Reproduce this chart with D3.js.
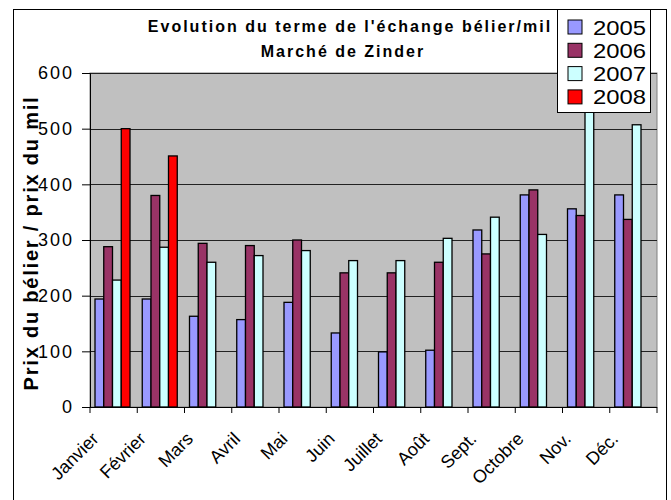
<!DOCTYPE html>
<html>
<head>
<meta charset="utf-8">
<script src="https://cdn.jsdelivr.net/npm/d3@7"></script>
<style>
  body { margin: 0; background: #fff; }
  svg { display: block; font-family: "Liberation Sans", Arial, sans-serif; }
</style>
</head>
<body>
<div id="chart"></div>
<script>
// donnees
var months = ["Janvier", "Février", "Mars", "Avril", "Mai", "Juin", "Juillet", "Août", "Sept.", "Octobre", "Nov.", "Déc."];
var years = ["2005", "2006", "2007", "2008"];
var v2005 = [194, 194, 163, 157, 188, 133, 99, 102, 318, 381, 356, 381];
var v2006 = [288, 380, 294, 290, 300, 241, 241, 260, 275, 390, 344, 337];
var v2007 = [228, 287, 260, 272, 281, 263, 263, 303, 341, 310, 560, 507];
var v2008 = [500, 451, null, null, null, null, null, null, null, null, null, null];
var yTicks = [0, 100, 200, 300, 400, 500, 600];
var colors = ["#9999ff", "#993366", "#ccffff", "#ff0000"];

var series = [v2005, v2006, v2007, v2008];

var W = 671, H = 500;
var plot = {left: 90, right: 657, top: 73, bottom: 407};

var svg = d3.select("#chart").append("svg")
  .attr("width", W).attr("height", H);

// cadre exterieur
svg.append("rect")
  .attr("x", 13.5).attr("y", 9.5)
  .attr("width", 653).attr("height", 520)
  .attr("fill", "#fff").attr("stroke", "#000");

var x0 = d3.scaleBand().domain(months).range([plot.left, plot.right]);
var x1 = d3.scaleBand().domain(years).range([5, 40]);
var y = d3.scaleLinear().domain([0, 600]).range([plot.bottom, plot.top]);

// fond de la zone de tracé
svg.append("rect")
  .attr("x", plot.left).attr("y", plot.top)
  .attr("width", plot.right - plot.left).attr("height", plot.bottom - plot.top)
  .attr("fill", "#c0c0c0").attr("stroke", "#808080");

// quadrillage
svg.append("g").selectAll("line").data(yTicks.slice(1)).enter().append("line")
  .attr("x1", plot.left).attr("x2", plot.right)
  .attr("y1", function(d){ return Math.round(y(d)) + 0.5; })
  .attr("y2", function(d){ return Math.round(y(d)) + 0.5; })
  .attr("stroke", "#222").attr("stroke-width", 1);

// barres
var flat = [];
series.forEach(function(s, i){
  s.forEach(function(v, j){
    if (v != null) flat.push({year: years[i], month: months[j], value: v, color: colors[i]});
  });
});
svg.append("g").selectAll("rect").data(flat).enter().append("rect")
  .attr("x", function(d){ return x0(d.month) + x1(d.year); })
  .attr("width", x1.bandwidth())
  .attr("y", function(d){ return y(d.value); })
  .attr("height", function(d){ return y(0) - y(d.value); })
  .attr("fill", function(d){ return d.color; })
  .attr("stroke", "#000").attr("stroke-width", 1.3);

// axe Y
var yAxis = svg.append("g")
  .attr("transform", "translate(" + plot.left + ",0)")
  .call(d3.axisLeft(y).tickValues(yTicks).tickSize(8).tickPadding(8));
yAxis.selectAll("text").attr("font-size", 18).attr("fill", "#000")
  .attr("letter-spacing", 2)
  .attr("font-family", "Liberation Sans, Arial, sans-serif");
yAxis.selectAll("line, path").attr("stroke", "#000");

// axe X (graduations entre les categories)
var xb = months.map(function(m){ return x0(m); }).concat([plot.right]);
svg.append("line")
  .attr("x1", plot.left).attr("x2", plot.right)
  .attr("y1", plot.bottom + 0.5).attr("y2", plot.bottom + 0.5)
  .attr("stroke", "#000");
svg.append("g").selectAll("line").data(xb).enter().append("line")
  .attr("x1", function(d){ return d; }).attr("x2", function(d){ return d; })
  .attr("y1", plot.bottom).attr("y2", plot.bottom + 6)
  .attr("stroke", "#000");

svg.append("g").selectAll("text").data(months).enter().append("text")
  .attr("transform", function(d){
    var cx = x0(d) + x0.bandwidth() / 2;
    return "translate(" + (cx - 14) + "," + 440 + ") rotate(-45)";
  })
  .attr("text-anchor", "end")
  .attr("font-size", 18)
  .text(function(d){ return d; });

// titre
var title = svg.append("text")
  .attr("text-anchor", "middle")
  .attr("font-size", 16).attr("font-weight", "bold")
  .attr("letter-spacing", 2);
title.append("tspan").attr("x", 350).attr("y", 32).text("Evolution du terme de l'échange bélier/mil");
title.append("tspan").attr("x", 343).attr("y", 57).text("Marché de Zinder");

// titre axe Y
svg.append("text")
  .attr("transform", "translate(38,243) rotate(-90)")
  .attr("text-anchor", "middle")
  .attr("font-size", 20).attr("font-weight", "bold")
  .attr("letter-spacing", 1.8)
  .text("Prix du bélier / prix du mil");

// legende
var leg = svg.append("g").attr("transform", "translate(557,9)");
leg.append("rect")
  .attr("x", 0.5).attr("y", 0.5).attr("width", 93).attr("height", 103)
  .attr("fill", "#fff").attr("stroke", "#000");
var items = leg.selectAll("g.item").data(years).enter().append("g")
  .attr("class", "item")
  .attr("transform", function(d, i){ return "translate(0," + (18 + i * 23.3) + ")"; });
items.append("rect")
  .attr("x", 11).attr("y", -7).attr("width", 14).attr("height", 14)
  .attr("fill", function(d, i){ return colors[i]; })
  .attr("stroke", "#000");
items.append("text")
  .attr("x", 36).attr("y", 7.5)
  .attr("font-size", 20)
  .attr("textLength", 53).attr("lengthAdjust", "spacingAndGlyphs")
  .text(function(d){ return d; });
</script>
</body>
</html>
